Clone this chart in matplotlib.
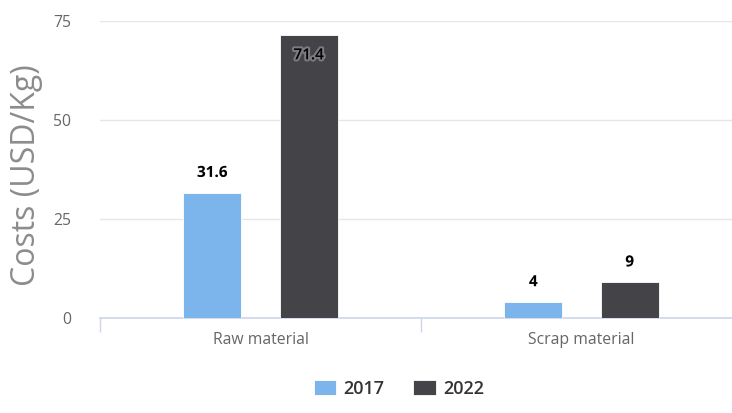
import matplotlib
matplotlib.use("Agg")
import matplotlib.pyplot as plt
import matplotlib.patheffects as pe
import numpy as np

categories = ["Raw material", "Scrap material"]
series_names = ["2017", "2022"]
values_2017 = [31.6, 4]
values_2022 = [71.4, 9]
y_ticks = [0, 25, 50, 75]

colors = ["#7cb5ec", "#434348"]

plt.rcParams["font.family"] = ["Open Sans", "DejaVu Sans"]

fig = plt.figure(figsize=(7.32, 4.13), dpi=100)
ax = fig.add_axes([0.1366, 0.230, 0.877, 0.719])

x = np.arange(len(categories))
width = 0.181
offset = 0.15

bars1 = ax.bar(x - offset, values_2017, width, color=colors[0], label=series_names[0],
               edgecolor="white", linewidth=0.6, zorder=3)
bars2 = ax.bar(x + offset, values_2022, width, color=colors[1], label=series_names[1],
               edgecolor="white", linewidth=0.6, zorder=3)

halo = [pe.withStroke(linewidth=3, foreground="white", alpha=0.3)]

for bars, vals in ((bars1, values_2017), (bars2, values_2022)):
    for b, v in zip(bars, vals):
        cx = b.get_x() + b.get_width() / 2
        label = f"{v:g}"
        # tall bars carry their label inside, the rest above
        inside = v > 65
        dy = -20 if inside else 20
        ax.annotate(label, (cx, v), xytext=(0, dy), textcoords="offset pixels",
                    ha="center", va="center", fontsize=11,
                    fontweight="semibold" if inside else "bold",
                    color="#000000", path_effects=halo, zorder=5)

ax.set_xlim(-0.5, len(categories) - 0.5)
ax.set_ylim(0, 75)
ax.set_yticks(y_ticks)
ax.set_yticklabels([str(t) for t in y_ticks])
ax.yaxis.grid(True, color="#e6e6e6", linewidth=1.0, zorder=0)
ax.set_axisbelow(True)

# category ticks at boundaries, labels at centres
ax.set_xticks(np.arange(len(categories) + 1) - 0.5)
ax.set_xticklabels([])
ax.set_xticks(x, minor=True)
ax.set_xticklabels(categories, minor=True)
ax.tick_params(axis="x", which="major", length=10, width=1, color="#ccd6eb", direction="out")
ax.tick_params(axis="x", which="minor", length=0, pad=10, labelsize=11.3, labelcolor="#666666")
ax.tick_params(axis="y", length=0, pad=21, labelsize=11.3, labelcolor="#666666")

for s in ("top", "right", "left"):
    ax.spines[s].set_visible(False)
ax.spines["bottom"].set_color("#ccd6eb")
ax.spines["bottom"].set_linewidth(1.2)

fig.text(27 / 732, 1 - 175 / 413, "Costs (USD/Kg)", rotation=90, ha="center", va="center",
         fontsize=23, color="#8c8c8c")

fig.legend(handles=[bars1, bars2], labels=series_names, loc="center",
           bbox_to_anchor=(399 / 732, 1 - 389 / 413), ncol=2, frameon=False,
           prop={"size": 13, "weight": "semibold"}, handlelength=1.25, handleheight=0.9,
           handletextpad=0.4, columnspacing=1.6, labelcolor="#333333")

fig.savefig("out.png", dpi=100, facecolor="white")
